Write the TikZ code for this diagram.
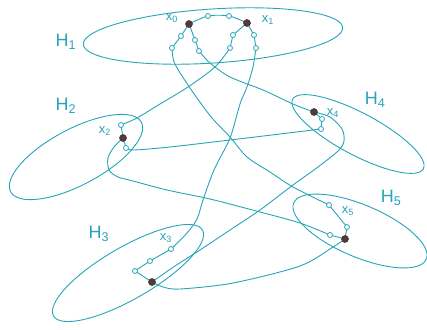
\documentclass[tikz,border=0pt]{standalone}
\usepackage{fontspec}
\setmainfont{Liberation Sans}
\usetikzlibrary{backgrounds}
\definecolor{tealc}{RGB}{38,164,184}
\definecolor{vdark}{RGB}{85,58,58}
\tikzset{
  hyper/.style={draw=tealc, line width=0.9pt},
  edge/.style={draw=tealc, line width=0.9pt},
  openv/.style={circle, draw=tealc, fill=white, line width=0.8pt, inner sep=0pt, minimum size=5pt},
  fullv/.style={circle, draw=vdark!70!black, fill=vdark, line width=0.5pt, inner sep=0pt, minimum size=7pt},
  hlab/.style={text=tealc, font=\fontsize{18}{18}\selectfont},
  xlab/.style={text=tealc, font=\fontsize{13}{13}\selectfont},
}
\begin{document}
\begin{tikzpicture}[x=1pt,y=-1pt]
\useasboundingbox (0,0) rectangle (427,329);
% hyperedges
\draw[hyper, rotate around={3.7:(213,36)}] (213,36) ellipse [x radius=130pt, y radius=27pt];
\draw[hyper, rotate around={28:(76,157)}] (76,157) ellipse [x radius=74pt, y radius=28pt];
\draw[hyper, rotate around={30:(128,273)}] (128,273) ellipse [x radius=86pt, y radius=26pt];
\draw[hyper, rotate around={-28:(358,134)}] (358,134) ellipse [x radius=74pt, y radius=21pt];
\draw[hyper, rotate around={-23:(360,231)}] (360,231) ellipse [x radius=72pt, y radius=26pt];
% vertices
\node[fullv] (x0) at (189,24) {};
\node[fullv] (x1) at (247,23) {};
\node[openv] (a1) at (208,16) {};
\node[openv] (a2) at (229,16) {};
\node[openv] (L1) at (181,36) {};
\node[openv] (L2) at (172,48) {};
\node[openv] (R1) at (195,40) {};
\node[openv] (R2) at (199,51) {};
\node[openv] (P1) at (233,35) {};
\node[openv] (P2) at (230,48) {};
\node[openv] (Q1) at (254,35) {};
\node[openv] (Q2) at (256,48) {};
\node[fullv] (x2) at (123,138) {};
\node[openv] (b1) at (121,125) {};
\node[openv] (b2) at (126,148) {};
\node[fullv] (x4) at (314,112) {};
\node[openv] (d1) at (322,119) {};
\node[openv] (d2) at (321,129) {};
\node[fullv] (x5) at (345,239) {};
\node[openv] (e1) at (329,205) {};
\node[openv] (e2) at (347,227) {};
\node[openv] (e3) at (330,235) {};
\node[fullv] (x3) at (152,282) {};
\node[openv] (c1) at (135,271) {};
\node[openv] (c2) at (150,261) {};
\node[openv] (c3) at (171,249) {};
% labels
\node[hlab] (h1) at (66,42) {H\textsubscript{1}};
\node[hlab] (h2) at (66,106) {H\textsubscript{2}};
\node[hlab] (h3) at (99,234) {H\textsubscript{3}};
\node[hlab] (h4) at (375,100) {H\textsubscript{4}};
\node[hlab] (h5) at (391,198) {H\textsubscript{5}};
\node[xlab] (lx0) at (172,18) {x\textsubscript{0}};
\node[xlab] (lx1) at (268,20) {x\textsubscript{1}};
\node[xlab] (lx2) at (105,131) {x\textsubscript{2}};
\node[xlab] (lx3) at (166,238) {x\textsubscript{3}};
\node[xlab] (lx4) at (333,113) {x\textsubscript{4}};
\node[xlab] (lx5) at (348,211) {x\textsubscript{5}};
% connectors
\begin{scope}[on background layer]
\draw[edge] plot[smooth] coordinates {(x0.center) (a1.center) (a2.center) (x1.center)};
\draw[edge] (x0.center) -- (L1.center) -- (L2.center);
\draw[edge] (x0.center) -- (R1.center) -- (R2.center);
\draw[edge] (x1.center) -- (P1.center) -- (P2.center);
\draw[edge] (x1.center) -- (Q1.center) -- (Q2.center);
\draw[edge] (b1.center) -- (x2.center) -- (b2.center);
\draw[edge] (x4.center) -- (d1.center) -- (d2.center);
\draw[edge] (e1.center) -- (e2.center) -- (x5.center);
\draw[edge] (e3.center) -- (x5.center);
\draw[edge] (x3.center) -- (c1.center) -- (c2.center) -- (c3.center);
% x0 -> x5
\draw[edge] plot[smooth] coordinates {(L2.center) (174,62) (184,79) (197,98) (212,118) (230,137) (247,157) (270,172) (293,187) (e1.center)};
% x0 -> x4
\draw[edge] plot[smooth] coordinates {(R2.center) (210,63) (230,77) (263,90) (293,104) (x4.center)};
% x1 -> x2
\draw[edge] plot[smooth] coordinates {(P2.center) (215,67) (188,87) (160,104) (137,118) (b1.center)};
% x1 -> x3
\draw[edge] plot[smooth] coordinates {(Q2.center) (253,67) (247,87) (240,104) (230,138) (214,170) (203,200) (197,219) (187,233) (c3.center)};
% x2 -> x4
\draw[edge] plot[smooth] coordinates {(b2.center) (134,150) (170,147) (230,140) (280,134) (d2.center)};
% x2 -> x5
\draw[edge] plot[smooth] coordinates {(x2.center) (114,147) (108,158) (109,170) (118,177) (133,181) (167,190) (210,199) (260,212) (300,223) (e3.center)};
% x5 -> x3
\draw[edge] plot[smooth] coordinates {(x5.center) (333,247) (300,266) (233,283) (180,289) (163,287) (x3.center)};
% x4 -> x3
\draw[edge] plot[smooth] coordinates {(x4.center) (330,117) (342,129) (344,141) (338,151) (318,167) (293,185) (260,210) (230,230) (200,250) (175,266) (x3.center)};
\end{scope}
\end{tikzpicture}
\end{document}
